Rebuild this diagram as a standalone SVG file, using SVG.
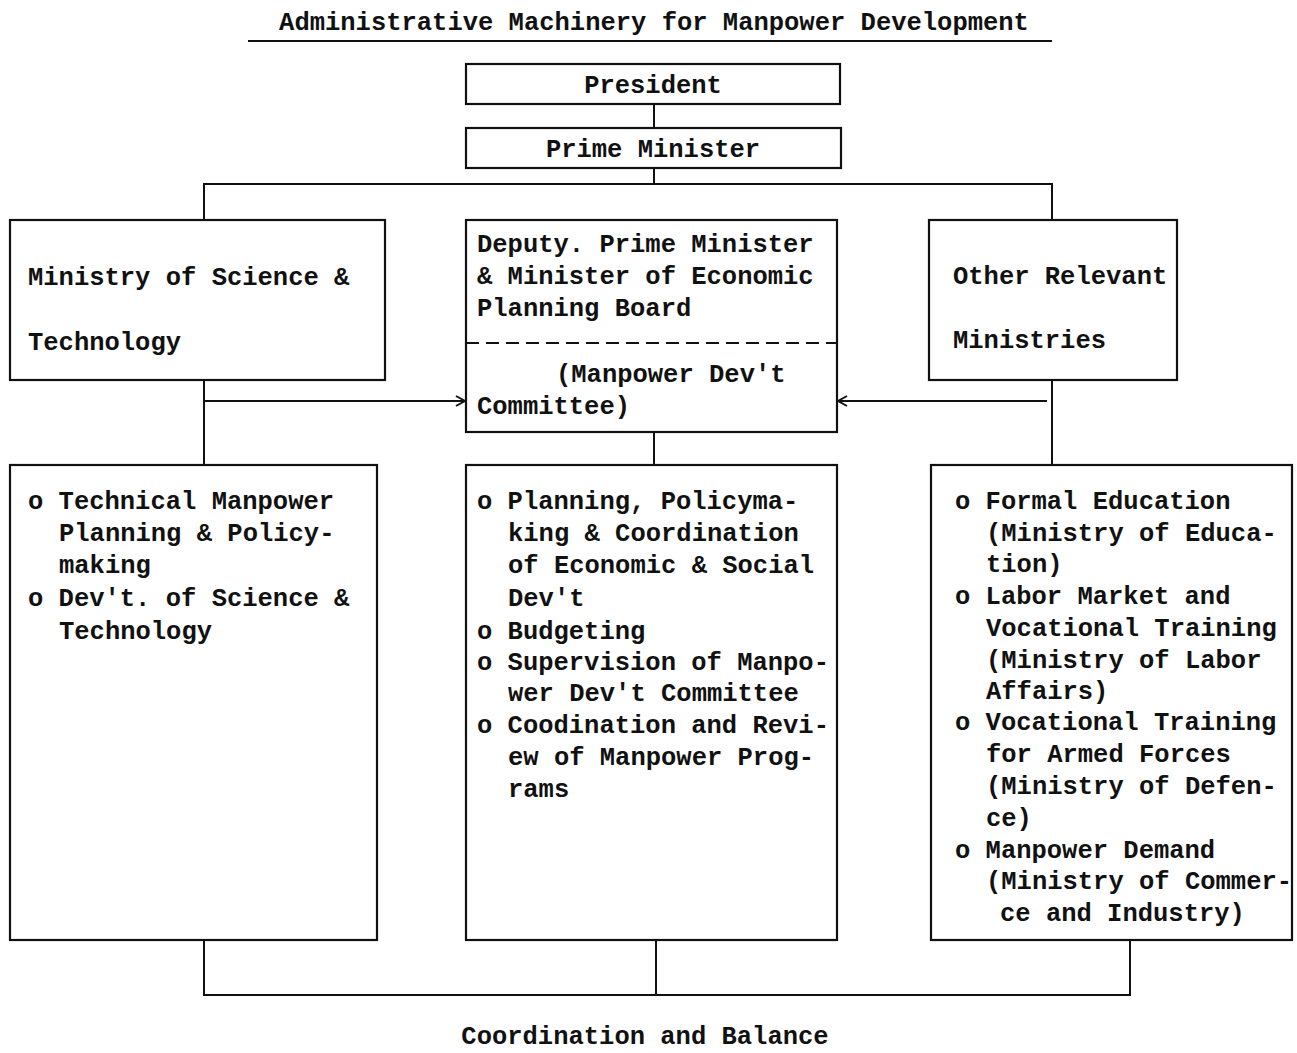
<svg xmlns="http://www.w3.org/2000/svg" width="1297" height="1053" viewBox="0 0 1297 1053">
<style>
text{font-family:"Liberation Mono","DejaVu Sans Mono",monospace;font-size:25.5px;font-weight:bold;fill:#111}
.box{fill:#fff;stroke:#111;stroke-width:2.2}
.ln{fill:none;stroke:#111;stroke-width:2}
.mid{text-anchor:middle}
</style>
<defs>
<marker id="ah" markerWidth="12" markerHeight="12" refX="10" refY="6" orient="auto" markerUnits="userSpaceOnUse">
<path d="M1,1 L10,6 L1,11" fill="none" stroke="#111" stroke-width="2"/>
</marker>
</defs>
<g id="title">
<text class="mid" x="654" y="30">Administrative Machinery for Manpower Development</text>
<line class="ln" x1="248" y1="41" x2="1052" y2="41"/>
</g>
<g id="connectors">
<line class="ln" x1="654" y1="104" x2="654" y2="128"/>
<polyline class="ln" points="654,168 654,184"/>
<polyline class="ln" points="204,220 204,184 1052,184 1052,220"/>
<line class="ln" x1="204" y1="380" x2="204" y2="465"/>
<line class="ln" x1="1052" y1="380" x2="1052" y2="465"/>
<line class="ln" x1="654" y1="432" x2="654" y2="465"/>
<line class="ln" x1="204" y1="401" x2="465" y2="401" marker-end="url(#ah)"/>
<line class="ln" x1="1047" y1="401" x2="838" y2="401" marker-end="url(#ah)"/>
<polyline class="ln" points="204,940 204,995 1130,995 1130,940"/>
<line class="ln" x1="656" y1="940" x2="656" y2="995"/>
</g>
<g id="president">
<rect class="box" x="466" y="64" width="374" height="40"/>
<text class="mid" x="653" y="93">President</text>
</g>
<g id="prime-minister">
<rect class="box" x="466" y="128" width="375" height="40"/>
<text class="mid" x="653" y="157">Prime Minister</text>
</g>
<g id="ministry-science">
<rect class="box" x="10" y="220" width="375" height="160"/>
<text x="28" y="285">Ministry of Science &amp;</text>
<text x="28" y="350">Technology</text>
</g>
<g id="deputy-pm">
<rect class="box" x="466" y="220" width="371" height="212"/>
<text x="477" y="252">Deputy. Prime Minister</text>
<text x="477" y="284">&amp; Minister of Economic</text>
<text x="477" y="316">Planning Board</text>
<line class="ln" x1="466" y1="343" x2="837" y2="343" stroke-dasharray="13,7"/>
<text x="556" y="382">(Manpower Dev't</text>
<text x="477" y="414">Committee)</text>
</g>
<g id="other-ministries">
<rect class="box" x="929" y="220" width="248" height="160"/>
<text x="953" y="284">Other Relevant</text>
<text x="953" y="348">Ministries</text>
</g>
<g id="science-functions">
<rect class="box" x="10" y="465" width="367" height="475"/>
<text x="28" y="509">o Technical Manpower</text>
<text x="59" y="541">Planning &amp; Policy-</text>
<text x="59" y="573">making</text>
<text x="28" y="606">o Dev't. of Science &amp;</text>
<text x="59" y="639">Technology</text>
</g>
<g id="epb-functions">
<rect class="box" x="466" y="465" width="371" height="475"/>
<text x="477" y="509">o Planning, Policyma-</text>
<text x="508" y="541">king &amp; Coordination</text>
<text x="508" y="573">of Economic &amp; Social</text>
<text x="508" y="606">Dev't</text>
<text x="477" y="639">o Budgeting</text>
<text x="477" y="670">o Supervision of Manpo-</text>
<text x="508" y="701">wer Dev't Committee</text>
<text x="477" y="733">o Coodination and Revi-</text>
<text x="508" y="765">ew of Manpower Prog-</text>
<text x="508" y="797">rams</text>
</g>
<g id="other-functions">
<rect class="box" x="931" y="465" width="361" height="475"/>
<text x="955" y="509">o Formal Education</text>
<text x="986" y="541">(Ministry of Educa-</text>
<text x="986" y="572">tion)</text>
<text x="955" y="604">o Labor Market and</text>
<text x="986" y="636">Vocational Training</text>
<text x="986" y="668">(Ministry of Labor</text>
<text x="986" y="699">Affairs)</text>
<text x="955" y="730">o Vocational Training</text>
<text x="986" y="762">for Armed Forces</text>
<text x="986" y="794">(Ministry of Defen-</text>
<text x="986" y="826">ce)</text>
<text x="955" y="858">o Manpower Demand</text>
<text x="986" y="889">(Ministry of Commer-</text>
<text x="1000" y="921">ce and Industry)</text>
</g>
<g id="footer">
<text class="mid" x="645" y="1044">Coordination and Balance</text>
</g>
</svg>
